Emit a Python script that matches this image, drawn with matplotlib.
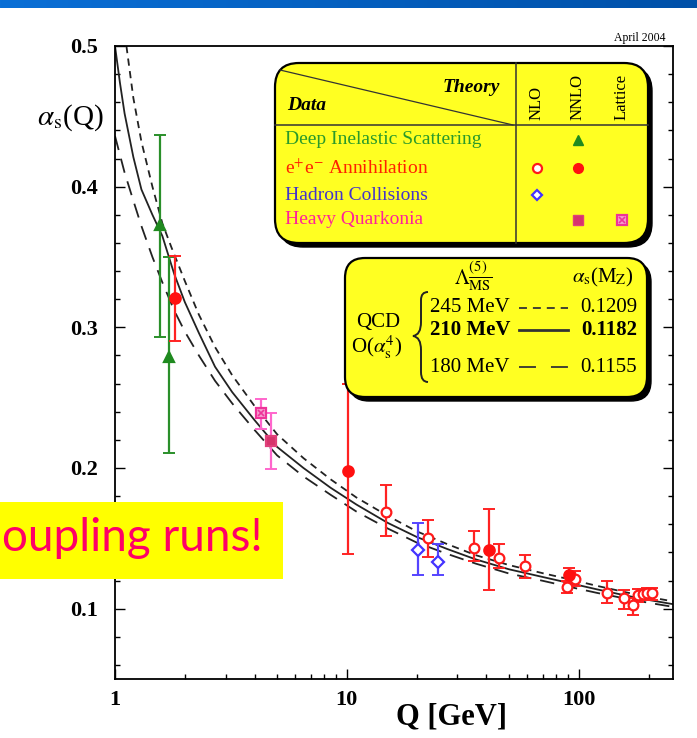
import matplotlib
matplotlib.use('Agg')
import numpy as np
import matplotlib.pyplot as plt
from matplotlib.patches import FancyBboxPatch, Rectangle, PathPatch
from matplotlib.path import Path

plt.rcParams['font.family'] = ['Liberation Serif', 'DejaVu Serif']
plt.rcParams['mathtext.fontset'] = 'stix'

########################## DATA ##########################
# running coupling curves
q_mid = [1.0, 1.05, 1.1, 1.2, 1.3, 1.45, 1.6, 1.8, 2.0, 2.3, 2.7, 3.2, 4.0, 5.0, 6.5, 8.5,
         11, 15, 20, 27, 36, 50, 70, 91.2, 120, 160, 200, 255]
a_mid = [0.500, 0.474, 0.452, 0.421, 0.398, 0.380, 0.365, 0.338, 0.318, 0.296, 0.272, 0.254,
         0.234, 0.215, 0.200, 0.186, 0.174, 0.161, 0.151, 0.1425, 0.135, 0.128, 0.1225, 0.1182,
         0.1137, 0.1093, 0.1062, 0.1032]
q_high = [1.12, 1.2, 1.3, 1.45, 1.6, 1.75, 2.0, 2.3, 2.7, 3.2, 4.0, 5.0, 6.5, 8.5, 11, 15, 20,
          27, 36, 50, 70, 91.2, 120, 160, 200, 255]
a_high = [0.500, 0.463, 0.432, 0.400, 0.374, 0.357, 0.333, 0.309, 0.286, 0.266, 0.244, 0.224,
          0.207, 0.192, 0.179, 0.166, 0.155, 0.146, 0.138, 0.131, 0.1252, 0.1209, 0.1162,
          0.1116, 0.1083, 0.1052]
q_low = [1.0, 1.1, 1.2, 1.3, 1.45, 1.6, 1.8, 2.0, 2.3, 2.7, 3.2, 4.0, 5.0, 6.5, 8.5, 11, 15,
         20, 27, 36, 50, 70, 91.2, 120, 160, 200, 255]
a_low = [0.436, 0.410, 0.390, 0.372, 0.350, 0.332, 0.312, 0.297, 0.280, 0.262, 0.246, 0.227,
         0.209, 0.194, 0.181, 0.169, 0.157, 0.147, 0.139, 0.132, 0.125, 0.1198, 0.1155, 0.1112,
         0.1071, 0.1042, 0.1013]

# deep inelastic scattering (NNLO)
dis_q = [1.56, 1.71]
dis_a = [0.373, 0.279]
dis_lo = [0.293, 0.211]
dis_hi = [0.437, 0.350]

# e+e- annihilation, NNLO (filled)
ee2_q = [1.82, 10.1, 41.0, 91.2]
ee2_a = [0.321, 0.198, 0.142, 0.124]
ee2_lo = [0.290, 0.139, 0.113, 0.119]
ee2_hi = [0.351, 0.260, 0.171, 0.129]

# e+e- annihilation, NLO (open)
ee1_q = [14.8, 22.3, 35.5, 45.1, 58.4, 89.0, 96.0, 133, 157, 171, 181, 190, 197, 208]
ee1_a = [0.169, 0.150, 0.143, 0.136, 0.130, 0.1155, 0.121, 0.111, 0.1075, 0.1026, 0.1095,
         0.1102, 0.1108, 0.111]
ee1_lo = [0.152, 0.137, 0.134, 0.129, 0.122, 0.111, 0.116, 0.104, 0.100, 0.0954, 0.105,
          0.106, 0.106, 0.106]
ee1_hi = [0.188, 0.163, 0.155, 0.146, 0.138, 0.120, 0.127, 0.1197, 0.113, 0.1075, 0.114,
          0.114, 0.115, 0.115]

# hadron collisions (NLO)
had_q = [20.2, 24.6]
had_a = [0.142, 0.133]
had_lo = [0.124, 0.124]
had_hi = [0.161, 0.146]

# heavy quarkonia: NNLO and lattice
hq_q = [4.72]
hq_a = [0.219]
hq_lo = [0.199]
hq_hi = [0.239]
lat_q = [4.27]
lat_a = [0.239]
lat_lo = [0.228]
lat_hi = [0.249]

########################## FIGURE ##########################
fig = plt.figure(figsize=(6.97, 7.38), dpi=100)
fig.set_facecolor('white')
ax = fig.add_axes([115/697, 1-679/738, (673-115)/697, (679-46)/738])

ax.plot(q_high, a_high, color='#222222', lw=1.3, ls=(0, (4, 3)))
ax.plot(q_mid, a_mid, color='#222222', lw=1.3)
ax.plot(q_low, a_low, color='#222222', lw=1.3, ls=(0, (8, 5)))


def points(q, a, lo, hi, ecol, marker, mfc, mec, ms=7.5):
    q = np.array(q); a = np.array(a)
    yerr = [a - np.array(lo), np.array(hi) - a]
    ax.errorbar(q, a, yerr=yerr, fmt='none', ecolor=ecol, elinewidth=1.6, capsize=4.5, capthick=1.4, zorder=3)
    ax.plot(q, a, ls='none', marker=marker, ms=ms, mfc=mfc, mec=mec, mew=1.6, zorder=4)


points(dis_q, dis_a, dis_lo, dis_hi, '#2a8f2a', '^', '#1f8a1f', '#1f8a1f')
points(ee1_q, ee1_a, ee1_lo, ee1_hi, '#ff2222', 'o', 'white', '#ff1a1a', 7)
points(ee2_q, ee2_a, ee2_lo, ee2_hi, '#ff2222', 'o', '#ff1010', '#ff1010')
points(had_q, had_a, had_lo, had_hi, '#5544ff', 'D', 'white', '#4433ff', 6)
points(hq_q, hq_a, hq_lo, hq_hi, '#ff66cc', 's', '#d6336c', '#e0407a')
points(lat_q, lat_a, lat_lo, lat_hi, '#ff66cc', 's', '#f5a0d0', '#ee3399')
ax.plot(lat_q, lat_a, ls='none', marker='x', ms=4, mec='#ee3399', mew=1.2, zorder=5)

ax.set_xscale('log')
ax.set_xlim(1, 255)
ax.set_ylim(0.05, 0.5)
ax.set_xticks([1, 10, 100])
ax.set_xticklabels(['1', '10', '100'])
ax.set_yticks([0.1, 0.2, 0.3, 0.4, 0.5])
ax.set_yticklabels(['0.1', '0.2', '0.3', '0.4', '0.5'])
ax.set_yticks(np.arange(0.06, 0.5, 0.02), minor=True)
ax.tick_params(which='both', direction='in', left=True, right=True, top=False, bottom=True, width=1.0)
ax.tick_params(which='major', length=7)
ax.tick_params(which='minor', length=3.5)
ax.tick_params(axis='x', pad=8)
ax.tick_params(axis='y', pad=12)
for lab in ax.get_xticklabels() + ax.get_yticklabels():
    lab.set_fontsize(16)
    lab.set_fontweight('bold')
for s in ax.spines.values():
    s.set_linewidth(1.3)

########################## OVERLAY ##########################
ov = fig.add_axes([0, 0, 1, 1], zorder=10)
ov.set_xlim(0, 697)
ov.set_ylim(738, 0)
ov.axis('off')
ov.patch.set_alpha(0)

# blue bar on top
grad = np.linspace(0, 1, 256).reshape(1, -1)
ov.imshow(grad, extent=[0, 697, 8, 0], aspect='auto', cmap=matplotlib.colors.LinearSegmentedColormap.from_list('b', ['#0a6fd6', '#0050a8']))
ov.set_xlim(0, 697)
ov.set_ylim(738, 0)

ov.text(70, 118, r'$\alpha_{\rm s}$(Q)', fontsize=21, ha='center', va='center')
ov.text(452, 717, 'Q [GeV]', fontsize=22, fontweight='bold', ha='center', va='center')
ov.text(640, 38, 'April 2004', fontsize=8.5, ha='center', va='center')


def rbox(x, y, w, h, r):
    ov.add_patch(FancyBboxPatch((x + 4, y + 4), w, h, boxstyle='round,pad=0,rounding_size=%d' % r,
                                fc='black', ec='black', lw=1))
    ov.add_patch(FancyBboxPatch((x, y), w, h, boxstyle='round,pad=0,rounding_size=%d' % r,
                                fc='#ffff22', ec='black', lw=1.6))


# table box
rbox(275, 63, 373, 180, 24)
ov.plot([516, 516], [63, 243], color='#333333', lw=1.1)
ov.plot([275, 648], [125, 125], color='#333333', lw=1.1)
ov.plot([280, 513], [70, 125], color='#333333', lw=0.9)
ov.text(500, 88, 'Theory', fontsize=14, fontweight='bold', style='italic', ha='right', va='center')
ov.text(287, 105, 'Data', fontsize=14, fontweight='bold', style='italic', ha='left', va='center')
for xx, t in [(537, 'NLO'), (578, 'NNLO'), (622, 'Lattice')]:
    ov.text(xx, 120, t, fontsize=12, rotation=90, ha='center', va='bottom')
rows = [('Deep Inelastic Scattering', '#2a9a2a', 140),
        ('e$^{+}$e$^{-}$ Annihilation', '#ff2200', 168),
        ('Hadron Collisions', '#4433cc', 195),
        ('Heavy Quarkonia', '#ff2299', 220)]
for t, c, yy in rows:
    ov.text(285, yy, t, fontsize=14, color=c, ha='left', va='center')
ov.plot(578, 140, marker='^', ms=7, mfc='#1f8a1f', mec='#1f8a1f')
ov.plot(537, 168, marker='o', ms=6.5, mfc='white', mec='#ff1a1a', mew=1.6)
ov.plot(578, 168, marker='o', ms=7, mfc='#ff1010', mec='#ff1010')
ov.plot(537, 195, marker='D', ms=5.5, mfc='white', mec='#4433ff', mew=1.6)
ov.plot(578, 220, marker='s', ms=7, mfc='#d6336c', mec='#e0407a')
ov.plot(622, 220, marker='s', ms=7, mfc='#f5a0d0', mec='#ee3399', mew=1.6)
ov.plot(622, 220, marker='x', ms=4, mec='#ee3399', mew=1.2)

# QCD box
rbox(345, 258, 302, 139, 20)
ov.text(473, 276, r'$\Lambda^{(5)}_{\overline{\rm MS}}$', fontsize=15, ha='center', va='center')
ov.text(603, 277, r'$\alpha_{\rm s}$(M$_{\rm Z}$)', fontsize=15, ha='center', va='center')
ov.text(378, 323, 'QCD', fontsize=15, ha='center', va='center')
ov.text(377, 347, r'O($\alpha_{\rm s}^{4}$)', fontsize=15, ha='center', va='center')
# curly brace
brace = Path([(428, 292), (421, 292), (421, 300), (421, 308),
              (421, 322), (421, 335), (413, 336),
              (421, 337), (421, 350), (421, 364),
              (421, 372), (421, 382), (428, 382)],
             [Path.MOVETO, Path.CURVE3, Path.CURVE3, Path.LINETO,
              Path.LINETO, Path.CURVE3, Path.CURVE3,
              Path.CURVE3, Path.CURVE3, Path.LINETO,
              Path.LINETO, Path.CURVE3, Path.CURVE3])
ov.add_patch(PathPatch(brace, fc='none', ec='#222222', lw=1.4))
box_rows = [('245 MeV', '0.1209', 308, (0, (4.4, 3.3)), 'normal'),
            ('210 MeV', '0.1182', 330, '-', 'bold'),
            ('180 MeV', '0.1155', 367, (0, (9.4, 8.3)), 'normal')]
for lam, al, yy, ls, fw in box_rows:
    ov.text(430, yy, lam, fontsize=15, fontweight=fw, ha='left', va='center')
    ov.text(637, yy, al, fontsize=15, fontweight=fw, ha='right', va='center')
    ov.plot([519, 568], [yy, yy], color='#333333', lw=2.0 if fw == 'bold' else 1.3, ls=ls)

# yellow banner
ov.add_patch(Rectangle((0, 502), 283, 77, fc='#ffff00', ec='none'))
ov.text(2, 538, 'oupling runs!', fontsize=33, color='#ff0066', family=['Lato', 'DejaVu Sans'],
        ha='left', va='center')

fig.savefig('out.png', dpi=100)
